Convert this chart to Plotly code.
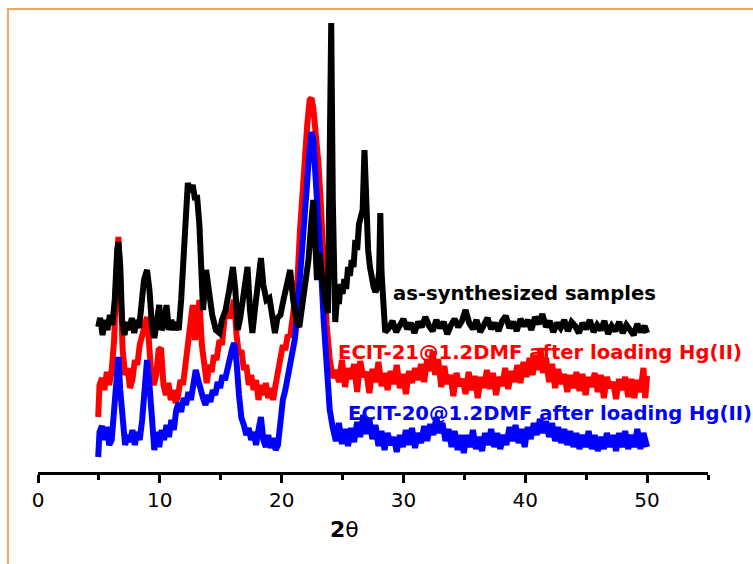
import plotly.graph_objects as go

# ---- data (2-theta, intensity in arbitrary units incl. vertical offset) ----
black_x = [4.94, 5.1, 5.3, 5.5, 5.7, 5.9, 6.1, 6.3, 6.5, 6.6, 6.75, 6.9, 7.1, 7.3, 7.5, 7.7, 7.9, 8.1, 8.3, 8.5,
           8.7, 8.95, 9.15, 9.35, 9.55, 9.75, 9.95, 10.15, 10.35, 10.55, 10.75, 10.95, 11.15, 11.35, 11.55, 11.75,
           11.95, 12.15, 12.3, 12.5, 12.7, 12.9, 13.05, 13.25, 13.4, 13.55, 13.8, 14.0, 14.3, 14.6, 14.9, 15.1,
           15.4, 15.7, 16.0, 16.2, 16.4, 16.6, 16.8, 17.05, 17.2, 17.4, 17.6, 17.8, 18.05, 18.3, 18.5, 18.75,
           19.0, 19.2, 19.45, 19.65, 19.9, 20.15, 20.45, 20.7, 20.95, 21.2, 21.45, 21.7, 21.95, 22.2, 22.45,
           22.6, 22.75, 22.9, 23.1, 23.3, 23.55, 23.8, 23.95, 24.07, 24.2, 24.3, 24.4, 24.55, 24.7, 24.85, 25.0,
           25.15, 25.3, 25.45, 25.6, 25.75, 25.9, 26.05, 26.2, 26.35, 26.5, 26.65, 26.8, 26.95, 27.1, 27.25,
           27.4, 27.55, 27.7, 27.85, 28.0, 28.1, 28.2, 28.35, 28.5,
           28.8, 29.1, 29.4, 29.7, 30.0, 30.3, 30.6, 30.9, 31.2, 31.5, 31.8, 32.1, 32.4, 32.7, 33.0, 33.3,
           33.6, 33.9, 34.2, 34.5, 34.8, 35.1, 35.4, 35.7, 36.0, 36.3, 36.6, 36.9, 37.2, 37.5, 37.8, 38.1,
           38.4, 38.7, 39.0, 39.3, 39.6, 39.9, 40.2, 40.5, 40.8, 41.1, 41.4, 41.7, 42.0, 42.3, 42.6, 42.9,
           43.2, 43.5, 43.8, 44.1, 44.4, 44.7, 45.0, 45.3, 45.6, 45.9, 46.2, 46.5, 46.8, 47.1, 47.4, 47.7,
           48.0, 48.3, 48.6, 48.9, 49.2, 49.5, 49.8, 50.0]
black_y = [145, 154, 137, 152, 142, 157, 147, 172, 222, 230, 207, 152, 137, 150, 142, 154, 139, 152, 144, 167,
           192, 202, 182, 147, 134, 150, 167, 142, 147, 167, 142, 152, 142, 150, 142, 172,
           222, 272, 289, 280, 287, 272, 277, 247, 192, 162, 202, 182, 157, 142, 139, 152,
           162, 182, 205, 182, 142, 154, 172, 202, 205, 162, 139, 162, 187, 214, 187, 172,
           174, 157, 139, 154, 157, 172, 187, 202, 172, 152, 145, 167, 192, 212, 252,
           272, 232, 192, 219, 192, 172, 159, 272, 449, 272, 160, 150, 175, 168, 188, 178,
           193, 183, 205, 196, 212, 205, 232, 222, 248, 258, 262, 322, 262, 222, 205,
           192, 185, 180, 184, 200, 259, 200, 150, 140,
           144, 151, 140, 147, 153, 143, 149, 139, 150, 145, 155, 146, 141, 152, 144, 150,
           138, 147, 153, 145, 151, 162, 149, 143, 152, 140, 148, 154, 143, 149, 141, 151,
           156, 144, 150, 141, 153, 146, 152, 142, 155, 148, 158, 145, 151, 140, 149, 144,
           152, 141, 150, 146, 139, 149, 143, 152, 140, 147, 142, 151, 138, 146, 141, 150,
           139, 147, 142, 137, 148, 140, 146, 139]

red_x = [4.94, 5.05, 5.25, 5.45, 5.65, 5.85, 6.05, 6.25, 6.45, 6.6, 6.75, 6.95, 7.15, 7.35, 7.55, 7.75, 7.95,
         8.15, 8.35, 8.55, 8.8, 8.95, 9.1, 9.3, 9.5, 9.7, 9.9, 10.1, 10.3, 10.5, 10.7, 10.9, 11.1, 11.3, 11.5,
         11.7, 11.9, 12.1, 12.3, 12.5, 12.7, 12.9, 13.1, 13.25, 13.45, 13.65, 13.85, 14.05, 14.25, 14.45, 14.65,
         14.9, 15.1, 15.3, 15.5, 15.75, 15.95, 16.1, 16.3, 16.5, 16.7, 16.9, 17.1, 17.3, 17.5, 17.7, 17.9, 18.1,
         18.3, 18.5, 18.7, 18.9, 19.1, 19.3, 19.5, 19.7, 19.9, 20.1, 20.3, 20.5, 20.7, 20.9, 21.1, 21.3, 21.5,
         21.8, 22.1, 22.3, 22.45, 22.6, 22.8, 23.0, 23.2, 23.45, 23.7, 23.95, 24.2, 24.45,
         24.7, 24.95, 25.2, 25.45, 25.7, 25.95, 26.2, 26.45, 26.7, 26.95, 27.2, 27.45, 27.7, 27.95, 28.2, 28.45,
         28.7, 28.95, 29.2, 29.45, 29.7, 29.95, 30.2, 30.45, 30.7, 30.95, 31.2, 31.45, 31.7, 31.95, 32.2, 32.4,
         32.6, 32.85, 33.1, 33.35, 33.6, 33.85, 34.1, 34.35, 34.6, 34.85, 35.1, 35.35, 35.6, 35.85, 36.1, 36.35,
         36.6, 36.85, 37.1, 37.35, 37.6, 37.85, 38.1, 38.35, 38.6, 38.85, 39.1, 39.35, 39.6, 39.85, 40.1, 40.35,
         40.6, 40.85, 41.1, 41.25, 41.45, 41.7, 41.95, 42.2, 42.45, 42.7, 42.95, 43.2, 43.45, 43.7, 43.95, 44.2,
         44.45, 44.7, 44.95, 45.2, 45.45, 45.7, 45.95, 46.2, 46.45, 46.7, 46.95, 47.2, 47.45, 47.7, 47.95, 48.2,
         48.45, 48.7, 48.95, 49.2, 49.45, 49.7, 49.85, 50.0]
red_y = [55, 87, 94, 82, 100, 87, 102, 132, 202, 235, 192, 122, 97, 104, 84, 92, 112,
         107, 127, 137, 152, 155, 132, 97, 87, 97, 122, 124, 87, 77, 89, 72, 82, 69, 77,
         92, 87, 107, 122, 154, 167, 132, 152, 172, 127, 102, 89, 107, 100, 117, 112,
         132, 127, 152, 162, 154, 167, 172, 137, 117, 122, 102, 107, 87, 97, 82, 92, 72,
         87, 77, 89, 74, 84, 72, 87, 102, 112, 127, 122, 137, 135, 154, 167, 192, 240,
         302, 347, 372, 374, 364, 342, 312, 272, 207, 147, 112, 94, 102,
         90, 112, 85, 104, 93, 108, 80, 111, 95, 100, 79, 103, 90, 110, 86, 99,
         82, 101, 88, 107, 84, 98, 78, 101, 89, 104, 92, 108, 90, 113, 101, 121,
         97, 113, 85, 106, 88, 97, 76, 99, 86, 93, 78, 100, 82, 96, 74, 95,
         84, 102, 83, 99, 77, 95, 86, 104, 83, 101, 90, 107, 89, 110, 95, 114,
         97, 117, 102, 124, 99, 114, 90, 108, 84, 103, 88, 98, 80, 97, 84, 100,
         81, 98, 77, 95, 85, 99, 80, 97, 74, 95, 84, 90, 73, 93, 82, 95,
         75, 93, 74, 92, 80, 104, 74, 96]

blue_x = [4.94, 5.05, 5.25, 5.45, 5.65, 5.85, 6.05, 6.25, 6.45, 6.6, 6.75, 6.95, 7.15, 7.35, 7.55, 7.75, 7.95,
          8.15, 8.35, 8.55, 8.75, 8.95, 9.15, 9.35, 9.55, 9.75, 9.95, 10.15, 10.35, 10.55, 10.75, 10.95, 11.15,
          11.35, 11.55, 11.75, 11.95, 12.15, 12.35, 12.55, 12.75, 12.95, 13.15, 13.35, 13.55, 13.75, 13.95, 14.15,
          14.35, 14.55, 14.75, 14.95, 15.15, 15.35, 15.55, 15.75, 15.95, 16.1, 16.3, 16.5, 16.7, 16.9, 17.1, 17.3,
          17.5, 17.7, 17.9, 18.1, 18.3, 18.5, 18.7, 18.9, 19.1, 19.3, 19.5, 19.7, 19.9, 20.1, 20.3, 20.5, 20.7,
          20.9, 21.1, 21.3, 21.55, 21.8, 22.05, 22.25, 22.45, 22.6, 22.8, 23.0, 23.2, 23.45, 23.7, 23.95, 24.2,
          24.45, 24.7, 24.95, 25.2, 25.45, 25.7, 25.95, 26.2, 26.45, 26.7, 26.95, 27.2, 27.45, 27.7, 27.95, 28.2,
          28.45, 28.7, 28.95, 29.2, 29.45, 29.7, 29.95, 30.2, 30.45, 30.7, 30.95, 31.2, 31.45, 31.7, 31.95, 32.2,
          32.45, 32.7, 32.95, 33.2, 33.45, 33.7, 33.95, 34.2, 34.45, 34.7, 34.95, 35.2, 35.45, 35.7, 35.95, 36.2,
          36.45, 36.7, 36.95, 37.2, 37.45, 37.7, 37.95, 38.2, 38.45, 38.7, 38.95, 39.2, 39.45, 39.7, 39.95, 40.2,
          40.45, 40.7, 40.95, 41.2, 41.45, 41.7, 41.95, 42.2, 42.45, 42.7, 42.95, 43.2, 43.45, 43.7, 43.95, 44.2,
          44.45, 44.7, 44.95, 45.2, 45.45, 45.7, 45.95, 46.2, 46.45, 46.7, 46.95, 47.2, 47.45, 47.7, 47.95, 48.2,
          48.45, 48.7, 48.95, 49.2, 49.45, 49.7, 50.0]
blue_y = [15, 40, 46, 32, 45, 27, 32, 62, 102, 115, 82, 49, 27, 37, 30, 42, 27,
          40, 32, 52, 87, 112, 87, 47, 22, 40, 25, 42, 32, 47, 35, 52, 42,
          62, 69, 60, 74, 67, 80, 72, 87, 102, 92, 80, 74, 67, 77, 70,
          82, 77, 90, 84, 97, 92, 104, 114, 124, 129, 110, 77, 54, 47, 37, 44,
          32, 40, 27, 42, 55, 32, 25, 37, 24, 34, 22, 27, 52, 72, 82, 97, 104,
          122, 134, 162, 197, 237, 282, 317, 340, 332, 297, 257, 212, 152, 97, 62, 44,
          31, 49, 28, 43, 26, 44, 30, 50, 35, 57, 38, 53, 33, 47, 26, 41,
          22, 39, 27, 35, 20, 37, 25, 42, 27, 44, 24, 39, 29, 46, 31, 48,
          37, 55, 39, 49, 31, 43, 25, 41, 22, 37, 19, 37, 25, 42, 23, 35,
          21, 39, 27, 43, 25, 39, 23, 37, 27, 45, 31, 47, 29, 43, 25, 45,
          33, 49, 37, 53, 39, 51, 35, 49, 31, 45, 29, 43, 27, 41, 25, 39,
          23, 37, 25, 41, 23, 37, 21, 35, 23, 39, 25, 37, 21, 39, 25, 41,
          23, 37, 25, 43, 23, 39, 25]

tick_vals = [0, 10, 20, 30, 40, 50]
tick_text = ["0", "10", "20", "30", "40", "50"]

labels = ["as-synthesized samples",
          "ECIT-21@1.2DMF after loading Hg(II)",
          "ECIT-20@1.2DMF after loading Hg(II)"]

fig = go.Figure()
fig.add_trace(go.Scatter(x=red_x, y=red_y, mode="lines",
                         line=dict(color="#FF0000", width=6), showlegend=False))
fig.add_trace(go.Scatter(x=blue_x, y=blue_y, mode="lines",
                         line=dict(color="#0000FF", width=6), showlegend=False))
fig.add_trace(go.Scatter(x=black_x, y=black_y, mode="lines",
                         line=dict(color="#000000", width=6), showlegend=False))

fig.add_annotation(x=28.98, y=179, xref="x", yref="y", xanchor="left", yanchor="middle",
                   text="<b>" + labels[0] + "</b>", showarrow=False,
                   font=dict(family="DejaVu Sans", size=19.6, color="#000000"))
fig.add_annotation(x=24.47, y=120, xref="x", yref="y", xanchor="left", yanchor="middle",
                   text="<b>" + labels[1] + "</b>", showarrow=False,
                   font=dict(family="DejaVu Sans", size=19.6, color="#FF0000"))
fig.add_annotation(x=25.29, y=59, xref="x", yref="y", xanchor="left", yanchor="middle",
                   text="<b>" + labels[2] + "</b>", showarrow=False,
                   font=dict(family="DejaVu Sans", size=19.6, color="#0000FF"))
# axis title
fig.add_annotation(x=25.2, y=-0.128, xref="x", yref="paper", xanchor="center", yanchor="middle",
                   text="<b>2</b>θ", showarrow=False,
                   font=dict(family="DejaVu Sans", size=22, color="#000000"))

# orange frame around the figure
fig.add_shape(type="rect", xref="paper", yref="paper",
              x0=-0.0448, x1=1.08, y0=-0.25, y1=1.0243,
              line=dict(color="#F5A462", width=2), fillcolor="rgba(0,0,0,0)", layer="below")

fig.update_layout(
    width=753, height=564,
    margin=dict(l=38, r=45, t=20, b=92),
    paper_bgcolor="white", plot_bgcolor="white",
    xaxis=dict(range=[0, 55], tickvals=tick_vals, ticktext=tick_text,
               showline=True, linecolor="black", linewidth=3,
               ticks="outside", ticklen=8, tickwidth=3, tickcolor="black",
               minor=dict(ticks="outside", ticklen=5, tickwidth=3, tickcolor="black",
                          tickvals=[5, 15, 25, 35, 45, 55]),
               showgrid=False, zeroline=False,
               tickfont=dict(family="DejaVu Sans", size=20, color="black")),
    yaxis=dict(range=[0, 452], visible=False, showgrid=False, zeroline=False),
)

fig.write_html("out.html")
